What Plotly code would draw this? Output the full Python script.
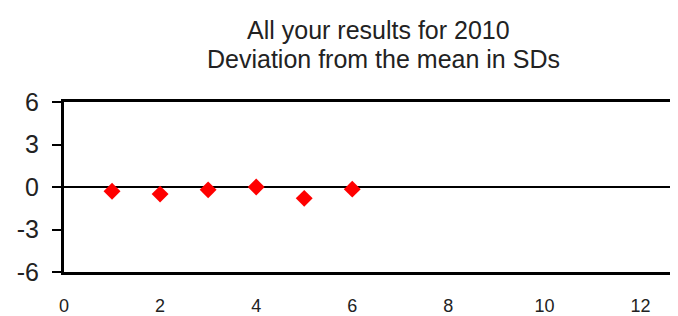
import plotly.graph_objects as go

runs = [1, 2, 3, 4, 5, 6]
deviation_sd = [-0.3, -0.5, -0.2, 0.0, -0.8, -0.15]
x_ticks = [0, 2, 4, 6, 8, 10, 12]
y_ticks = [-6, -3, 0, 3, 6]
title_lines = ["All your results for 2010", "Deviation from the mean in SDs"]

fig = go.Figure()
fig.add_trace(go.Scatter(
    x=runs, y=deviation_sd, mode="markers",
    marker=dict(symbol="diamond", size=13, color="#ff0000", line=dict(width=0)),
    showlegend=False, cliponaxis=False,
))

fig.update_layout(
    width=670, height=308,
    margin=dict(l=56, r=0, t=94, b=44),
    paper_bgcolor="white", plot_bgcolor="white",
    font=dict(family="Liberation Sans, Arial, sans-serif", color="#222"),
    annotations=[
        dict(text=title_lines[0], xref="paper", yref="paper", x=0.513, y=1.33,
             xanchor="center", yanchor="bottom", showarrow=False,
             font=dict(size=25, color="#222")),
        dict(text=title_lines[1], xref="paper", yref="paper", x=0.52, y=1.16,
             xanchor="center", yanchor="bottom", showarrow=False,
             font=dict(size=25, color="#222")),
    ],
)
fig.update_xaxes(
    range=[0, 12.78], tickvals=x_ticks, ticktext=[str(v) for v in x_ticks],
    showgrid=False, zeroline=False, automargin=False,
    showline=True, linecolor="black", linewidth=3, mirror=True,
    ticks="", ticklabelstandoff=15,
    tickfont=dict(size=18, color="#222"),
)
fig.update_yaxes(
    range=[-6, 6], tickvals=y_ticks, ticktext=[str(v) for v in y_ticks],
    showgrid=False, zeroline=True, zerolinecolor="black", zerolinewidth=1.5,
    showline=True, linecolor="black", linewidth=3, mirror=False, automargin=False,
    ticks="outside", ticklen=9, tickwidth=2, tickcolor="black",
    ticklabelstandoff=8,
    tickfont=dict(size=25, color="#222"),
)

fig.write_html("out.html")
